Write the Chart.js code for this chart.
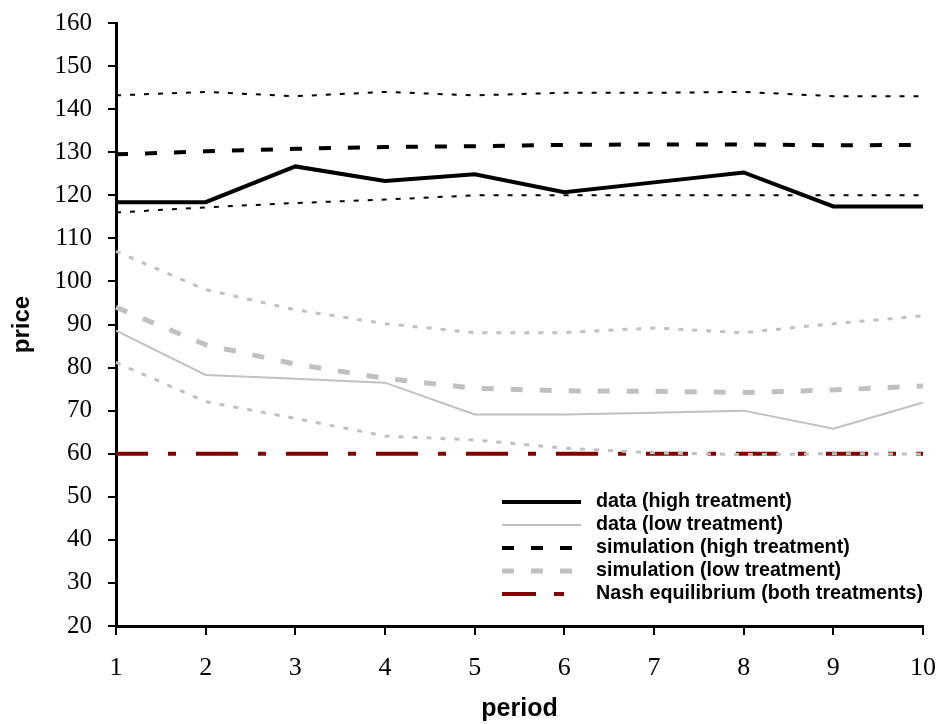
<!DOCTYPE html>
<html>
<head>
<meta charset="utf-8">
<title>price by period</title>
<script src="https://cdn.jsdelivr.net/npm/chart.js"></script>
<style>
    html, body { margin: 0; padding: 0; background: #fff; }
    #wrap { width: 939px; height: 724px; position: relative; }
</style>
</head>
<body>
<div id="wrap"><canvas id="price-chart"></canvas></div>
<script>
// --- Data ---
const periods = ['1', '2', '3', '4', '5', '6', '7', '8', '9', '10'];
const yTicks = [20, 30, 40, 50, 60, 70, 80, 90, 100, 110, 120, 130, 140, 150, 160];

const dataHigh     = [118.4, 118.4, 126.7, 123.3, 124.9, 120.7, 123.0, 125.3, 117.4, 117.4];
const dataLow      = [88.6, 78.3, 77.4, 76.5, 69.1, 69.1, 69.5, 70.0, 65.8, 71.9];
const simHigh      = [129.5, 130.2, 130.8, 131.2, 131.4, 131.7, 131.8, 131.8, 131.6, 131.7];
const simHighUpper = [143.2, 144.0, 143.0, 144.0, 143.2, 143.8, 143.8, 144.0, 143.0, 143.0];
const simHighLower = [116.0, 117.2, 118.2, 119.0, 120.0, 120.0, 120.0, 120.0, 120.0, 120.0];
const simLow       = [94.0, 85.3, 80.8, 77.5, 75.2, 74.6, 74.5, 74.2, 74.8, 75.7];
const simLowUpper  = [107.0, 98.1, 93.4, 90.2, 88.1, 88.1, 89.2, 88.1, 90.2, 92.0];
const simLowLower  = [81.2, 72.1, 68.2, 64.1, 63.2, 61.3, 60.2, 59.8, 60.0, 59.9];
const nash         = [60, 60, 60, 60, 60, 60, 60, 60, 60, 60];

const legendLabels = [
    'data (high treatment)',
    'data (low treatment)',
    'simulation (high treatment)',
    'simulation (low treatment)',
    'Nash equilibrium (both treatments)'
];

const GRAY = '#c0c0c0';
const NASH_RED = '#800000';
const SERIF = "'Liberation Serif', 'Times New Roman', serif";
const SANS = "'Liberation Sans', Arial, sans-serif";

// --- Legend drawn inside the plot area ---
const insideLegend = {
    id: 'insideLegend',
    afterDatasetsDraw(chart, args, opts) {
        const ctx = chart.ctx;
        const items = chart.data.datasets.filter(d => d.inLegend);
        ctx.save();
        ctx.font = `bold ${opts.fontSize}px ${SANS}`;
        ctx.textBaseline = 'middle';
        ctx.textAlign = 'left';
        items.forEach((d, i) => {
            const y = opts.top + i * opts.rowHeight;
            ctx.beginPath();
            ctx.setLineDash(d.legendDash || d.borderDash || []);
            ctx.lineWidth = d.borderWidth;
            ctx.strokeStyle = d.borderColor;
            ctx.lineCap = 'butt';
            ctx.moveTo(opts.left, y);
            ctx.lineTo(opts.left + opts.lineLength, y);
            ctx.stroke();
            ctx.setLineDash([]);
            ctx.fillStyle = '#000';
            ctx.fillText(d.label, opts.left + opts.lineLength + opts.gap, y);
        });
        ctx.restore();
    }
};

const line = (label, data, color, width, dash, order, inLegend) => ({
    label: label,
    data: data,
    borderColor: color,
    borderWidth: width,
    borderDash: dash,
    order: order,
    inLegend: inLegend,
    pointRadius: 0,
    tension: 0,
    fill: false
});

const datasets = [
    line(legendLabels[0], dataHigh, '#000', 4, [], 0, true),
    line(legendLabels[1], dataLow, GRAY, 2, [], 2, true),
    line(legendLabels[2], simHigh, '#000', 4, [12, 17], 1, true),
    line(legendLabels[3], simLow, GRAY, 5, [12, 17], 3, true),
    line(legendLabels[4], nash, NASH_RED, 4, [42, 20, 8, 20], 6, true),
    line('', simHighUpper, '#000', 2, [5, 9], 4, false),
    line('', simHighLower, '#000', 2, [5, 9], 4, false),
    line('', simLowUpper, GRAY, 3, [5, 9], 5, false),
    line('', simLowLower, GRAY, 3, [5, 9], 5, false)
];
datasets[4].borderDashOffset = 10;
datasets[4].legendDash = [34, 18, 10, 18];

// keep the plot box where the reference has it: no extra room for edge labels
const noEdgePadding = s => {
    s.paddingTop = 0;
    s.paddingBottom = 0;
    s.paddingLeft = 0;
    s.paddingRight = 0;
};

new Chart(document.getElementById('price-chart'), {
    type: 'line',
    data: { labels: periods, datasets: datasets },
    options: {
        responsive: true,
        maintainAspectRatio: false,
        animation: false,
        layout: { padding: { top: 23, right: 16, left: 0, bottom: 0 } },
        plugins: {
            legend: { display: false },
            tooltip: { enabled: false },
            insideLegend: { left: 502, top: 502, rowHeight: 23, lineLength: 79, gap: 15, fontSize: 19.7 }
        },
        scales: {
            x: {
                offset: false,
                grid: { display: true, drawOnChartArea: false, drawTicks: true, tickLength: 9, color: '#000', lineWidth: 2 },
                border: { display: true, color: '#000', width: 3 },
                ticks: { color: '#000', font: { family: SERIF, size: 26 }, padding: 18, maxRotation: 0, autoSkip: false },
                title: { display: true, text: 'period', color: '#000', font: { family: SANS, size: 25, weight: 'bold' }, padding: { top: 0, bottom: 0 } },
                afterFit: s => { s.height = 98; noEdgePadding(s); }
            },
            y: {
                min: 20,
                max: 160,
                afterBuildTicks: s => { s.ticks = yTicks.map(v => ({ value: v })); },
                grid: { display: true, drawOnChartArea: false, drawTicks: true, tickLength: 8, color: '#000', lineWidth: 2 },
                border: { display: true, color: '#000', width: 3 },
                ticks: { color: '#000', font: { family: SERIF, size: 25 }, padding: 16 },
                title: { display: true, text: 'price', color: '#000', font: { family: SANS, size: 24, weight: 'bold' }, padding: { top: 8, bottom: 0 } },
                afterFit: s => { s.width = 116; noEdgePadding(s); }
            }
        }
    },
    plugins: [insideLegend]
});
</script>
</body>
</html>
